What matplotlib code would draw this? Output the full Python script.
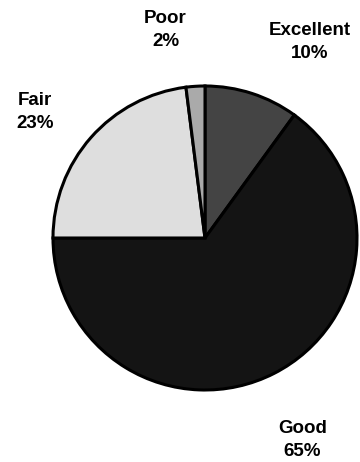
import matplotlib
matplotlib.use('Agg')
from matplotlib import pyplot as plt

labels = ['Excellent', 'Good', 'Fair', 'Poor']
shares = [10, 65, 23, 2]
colors = ['#444444', '#141414', '#dedede', '#aaaaaa']
label_pos = [(0.69, 1.29), (0.64, -1.33), (-1.12, 0.83), (-0.26, 1.37)]

plt.rcParams['font.family'] = ['Liberation Sans', 'DejaVu Sans']

fig = plt.figure(figsize=(3.6, 4.62), dpi=100)
ax = fig.add_axes([53 / 360, 72 / 462, 304 / 360, 304 / 462])
ax.pie(shares, colors=colors, startangle=90, counterclock=False,
       wedgeprops=dict(edgecolor='black', linewidth=2.2))
ax.set_xlim(-1, 1)
ax.set_ylim(-1, 1)
ax.axis('off')

for name, val, (x, y) in zip(labels, shares, label_pos):
    ax.text(x, y, f'{name}\n{val}%', ha='center', va='center',
            fontsize=13.5, fontweight='bold', linespacing=1.5)

fig.savefig('out.png', dpi=100)
